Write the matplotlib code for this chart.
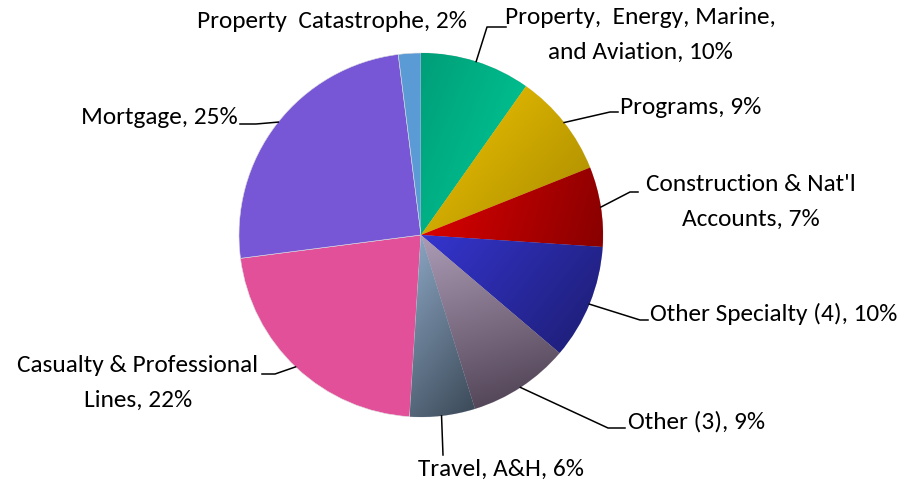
import numpy as np
import matplotlib.pyplot as plt
from matplotlib import font_manager
from matplotlib.colors import LinearSegmentedColormap

# slice data, clockwise from 12 o'clock
segments = ["Property,  Energy, Marine,\nand Aviation", "Programs", "Construction & Nat'l\nAccounts",
            "Other Specialty (4)", "Other (3)", "Travel, A&H", "Casualty & Professional\nLines",
            "Mortgage", "Property  Catastrophe"]
shares = [9.8, 9.2, 7.1, 10.2, 9.0, 5.8, 22.0, 25.1, 2.0]
# (start colour, end colour, gradient direction) ; None direction = flat fill
fills = [("#009E78", "#00CC98", (1.0, -0.4)),
         ("#F0C400", "#A88A00", (1.0, -0.9)),
         ("#E00000", "#880000", (1.0, -0.3)),
         ("#3535D0", "#1C1C70", (1.0, -0.8)),
         ("#AC9CB6", "#4A3C4E", (0.3, -1.0)),
         ("#8EA8C6", "#3A4856", (1.0, -0.8)),
         ("#E2509A", None, None),
         ("#7757D6", None, None),
         ("#5B9BD5", None, None)]

names = {f.name for f in font_manager.fontManager.ttflist}
fams = [f for f in ["Carlito", "Liberation Sans Narrow", "Open Sans"] if f in names]
plt.rcParams['font.family'] = fams[:1] + ['DejaVu Sans']

W, H = 917, 486
fig = plt.figure(figsize=(W / 100, H / 100), dpi=100)
ax = fig.add_axes([0, 0, 1, 1])

cx, cy, R = 421, H - 235, 182
wedges, _ = ax.pie(shares, startangle=90, counterclock=False, center=(cx, cy), radius=R,
                   colors=[f[0] for f in fills], wedgeprops=dict(linewidth=0.4, edgecolor="#dddddd"),
                   frame=True)
ax.set_xlim(0, W)
ax.set_ylim(0, H)
ax.set_aspect('equal')
ax.axis('off')

# gradient fills clipped to wedges
for w, (c0, c1, d) in zip(wedges, fills):
    if d is None:
        continue
    th = np.radians(np.linspace(w.theta1, w.theta2, 60))
    xs = np.concatenate([[cx], cx + R * np.cos(th)])
    ys = np.concatenate([[cy], cy + R * np.sin(th)])
    x0, x1, y0, y1 = xs.min(), xs.max(), ys.min(), ys.max()
    gx, gy = np.meshgrid(np.linspace(x0, x1, 200), np.linspace(y0, y1, 200))
    dx, dy = d
    proj = (gx - x0) * dx + (gy - y1) * dy
    proj = (proj - proj.min()) / (proj.max() - proj.min())
    cmap = LinearSegmentedColormap.from_list("g", [c0, c1])
    im = ax.imshow(proj, cmap=cmap, extent=(x0, x1, y0, y1), origin='lower', zorder=1.5,
                   interpolation='bilinear', aspect='auto')
    im.set_clip_path(w)

# labels: text anchor (image px), alignment, elbow + end of leader
cum = np.cumsum([0] + shares[:-1])
mids = [(c + s / 2) / 100 * 360 for c, s in zip(cum, shares)]
layout = [((640, 35), 'center', [(487, 27), (506, 27)]),
          ((620, 107), 'left', [(610, 112), (618, 112)]),
          ((751, 202), 'center', [(630, 192), (638, 192)]),
          ((650, 314), 'left', [(640, 320), (648, 320)]),
          ((628, 422), 'left', [(608, 428), (625, 428)]),
          ((418, 469), 'left', [(443, 455)]),
          ((138, 383), 'center', [(275, 374), (262, 374)]),
          ((238, 118), 'right', [(256, 124), (240, 124)]),
          ((467, 22), 'right', None)]

for name, s, m, (pos, ha, pts) in zip(segments, shares, mids, layout):
    txt = f"{name}, {s:.0f}%"
    tx, ty = pos
    ax.text(tx, H - ty, txt, ha=ha, va='center', fontsize=18.3, linespacing=1.8,
            multialignment='center')
    if pts:
        a = np.radians(m)
        sx, sy = cx + R * np.sin(a), cy + R * np.cos(a)
        px = [sx] + [p[0] for p in pts]
        py = [sy] + [H - p[1] for p in pts]
        ax.plot(px, py, color='black', lw=1.1, zorder=3)

fig.savefig("out.png", dpi=100)
